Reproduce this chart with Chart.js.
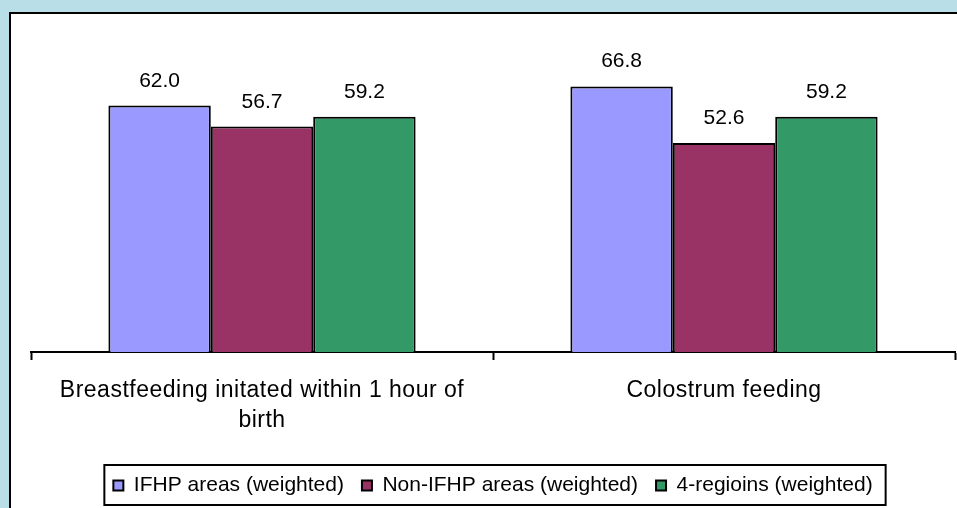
<!DOCTYPE html>
<html>
<head>
<meta charset="utf-8">
<script src="https://cdn.jsdelivr.net/npm/chart.js@4.4.0/dist/chart.umd.min.js"></script>
<style>
    html, body { margin: 0; padding: 0; }
    body { width: 957px; height: 508px; background: #b9dee8; position: relative; overflow: hidden; }
    .panel { position: absolute; left: 9px; top: 12px; width: 960px; height: 510px; background: #fff; border: 2px solid #000; }
    #chart { position: absolute; left: 0; top: 0; }
</style>
</head>
<body>
<div class="panel"></div>
<canvas id="chart" width="957" height="508"></canvas>
<script>
    // Chart data
    var categories = [
        ['Breastfeeding initated within 1 hour of', 'birth'],
        'Colostrum feeding'
    ];
    var seriesNames = ['IFHP areas (weighted)', 'Non-IFHP areas (weighted)', '4-regioins (weighted)'];
    var ifhpValues = [62.0, 66.8];
    var nonIfhpValues = [56.7, 52.6];
    var regionValues = [59.2, 59.2];

    var barColors = ['#9999ff', '#993366', '#339966'];
    var fontFamily = '"Liberation Sans", Arial, sans-serif';

    // Value labels above each bar, then widen letter spacing for the category labels drawn after
    var valueLabels = {
        id: 'valueLabels',
        afterDatasetsDraw: function(chart) {
            var ctx = chart.ctx;
            ctx.save();
            ctx.fillStyle = '#000';
            ctx.font = '21px ' + fontFamily;
            ctx.textAlign = 'center';
            ctx.textBaseline = 'alphabetic';
            chart.data.datasets.forEach(function(ds, i) {
                chart.getDatasetMeta(i).data.forEach(function(bar, j) {
                    ctx.fillText(ds.data[j].toFixed(1), bar.x, bar.y - 19);
                });
            });
            ctx.restore();
            ctx.letterSpacing = '0.5px';
        },
        afterDraw: function(chart) {
            chart.ctx.letterSpacing = '0px';
        }
    };

    // Box around the legend items
    var legendBox = {
        id: 'legendBox',
        afterDraw: function(chart) {
            var boxes = chart.legend.legendHitBoxes;
            if (!boxes || !boxes.length) return;
            var left = Math.min.apply(null, boxes.map(function(b) { return b.left; }));
            var right = Math.max.apply(null, boxes.map(function(b) { return b.left + b.width; }));
            var top = boxes[0].top;
            var ctx = chart.ctx;
            ctx.save();
            ctx.strokeStyle = '#000';
            ctx.lineWidth = 2;
            ctx.strokeRect(left - 9, top - 10, right - left + 22, 40);
            ctx.restore();
        }
    };

    new Chart(document.getElementById('chart'), {
        type: 'bar',
        data: {
            labels: categories,
            datasets: [ifhpValues, nonIfhpValues, regionValues].map(function(vals, i) {
                return {
                    label: seriesNames[i],
                    data: vals,
                    backgroundColor: barColors[i],
                    borderColor: '#000',
                    borderWidth: 2,
                    categoryPercentage: 0.665,
                    barPercentage: 1
                };
            })
        },
        options: {
            responsive: false,
            animation: false,
            layout: { padding: { left: 31, right: 2, top: 34, bottom: 2 } },
            plugins: {
                tooltip: { enabled: false },
                legend: {
                    position: 'bottom',
                    labels: {
                        boxWidth: 10,
                        boxHeight: 10,
                        padding: 18,
                        color: '#000',
                        font: { family: fontFamily, size: 21 },
                        useBorderRadius: false
                    }
                }
            },
            scales: {
                x: {
                    border: { color: '#000', width: 2 },
                    grid: {
                        offset: true,
                        drawOnChartArea: false,
                        drawTicks: true,
                        tickLength: 8,
                        tickWidth: 2,
                        tickColor: '#000'
                    },
                    ticks: {
                        z: 1,
                        color: '#000',
                        padding: 16,
                        maxRotation: 0,
                        font: { family: fontFamily, size: 23, lineHeight: 1.3 }
                    },
                    afterFit: function(scale) { scale.height = 105; }
                },
                y: {
                    display: false,
                    min: 0,
                    max: 80
                }
            }
        },
        plugins: [valueLabels, legendBox]
    });
</script>
</body>
</html>
